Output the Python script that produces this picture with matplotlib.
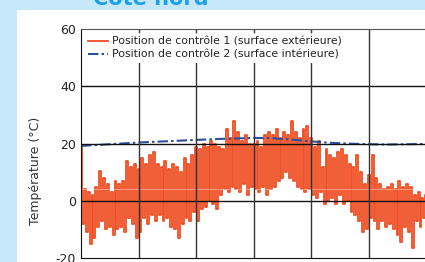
import numpy as np
import matplotlib
matplotlib.use("Agg")
import matplotlib.pyplot as plt
from matplotlib.patches import Rectangle

# readings every 2 days (outer surface), position de contrôle 1
temp_ext = [
    19, -8, 4, -11, 3, -15, 2, -13, 5, -9,
    10.5, -7, 8, -10, 6, -9, 3, -12, 7, -10,
    6, -9, 7, -11, 14, -6, 12, -8, 13, -13,
    11, -11, 15, -6, 13, -8, 16, -5, 17, -7,
    13, -5, 12, -7, 14, -6, 11, -9, 13, -10,
    12, -13, 10, -8, 15, -6, 13, -7, 16, -4,
    19, -7, 18, -3, 20, -2, 19, 0, 21, -1,
    20, -3, 19, 2, 18, 4, 25, 3, 22, 5,
    28, 4, 24, 3, 21, 6, 23, 2, 20, 5,
    20, 4, 21, 3, 19, 5, 23, 2, 24, 4,
    23, 5, 25, 7, 22, 8, 24, 10, 23, 8,
    28, 7, 24, 5, 22, 4, 25, 3, 26, 4,
    22, 2, 19, 1, 21, 3, 12, -1, 18, 0,
    16, 1, 15, -1, 17, 2, 18, -1, 16, 0,
    13, -4, 12, -5, 16, -7, 10, -11, 6, -10,
    9, -6, 16, -7, 8, -10, 6, -7, 4, -9,
    5, -8, 6, -10, 4, -12, 7, -14.5, 5, -9,
    6, -11, 5, -16.5, 2, -7, 3, -9, 1, -6, 2,
]
# readings every 20 days (inner surface), position de contrôle 2
temp_int = [19.2, 19.6, 20.0, 20.4, 20.7, 21.0, 21.3, 21.6, 21.8, 22.0,
            21.9, 21.4, 20.8, 20.3, 20.0, 19.8, 19.7, 19.8, 19.9]
label_ext = "Position de contrôle 1 (surface extérieure)"
label_int = "Position de contrôle 2 (surface intérieure)"
yticks = [-20, 0, 20, 40, 60]
xgrid = [60, 120, 180, 240, 300, 360]

days_ext = np.arange(len(temp_ext)) * 2
days_int = np.arange(len(temp_int)) * 20

W, H = 425, 262
fig = plt.figure(figsize=(W / 100, H / 100), dpi=100)
fig.patch.set_facecolor("#c6e8f8")
panel = Rectangle((17 / W, 0), 1, 1 - 10 / H, transform=fig.transFigure,
                  facecolor="white", edgecolor="none", zorder=-1)
fig.add_artist(panel)

ax = fig.add_axes([81 / W, 1 - 258 / H, (W - 81) / W + 0.003, (258 - 29.3) / H])
ax.set_zorder(1)
ax.set_facecolor("white")

ax.plot(days_ext, temp_ext, color="#f04e23", lw=1.3, zorder=2, label=label_ext,
        drawstyle="steps-mid")
ax.plot(days_int, temp_int, color="#2c4f9e", lw=1.5, zorder=2.1,
        dashes=(5, 1.5, 1.2, 1.5), label=label_int)
# faint light streak visible across the red band in the original scan
ax.axhline(4.3, color="white", lw=0.8, alpha=0.35, zorder=2.2)

for v in [0, 20, 40]:
    ax.axhline(v, color="#111111", lw=1, zorder=2.3)
for v in xgrid:
    ax.axvline(v, color="#333333", lw=1, zorder=2.3)

ax.set_xlim(0, 360)
ax.set_ylim(-20, 60)
ax.set_yticks(yticks)
ax.set_yticklabels([str(t) for t in yticks])
ax.set_xticks(xgrid)
ax.tick_params(axis="x", top=True, bottom=False, direction="in", length=3,
               labelbottom=False, color="#444444")
ax.tick_params(axis="y", length=0, pad=3.5, labelsize=9, labelcolor="#222222")
ax.xaxis.set_zorder(4)
for s in ["left", "bottom"]:
    ax.spines[s].set_color("#111111")
ax.spines["top"].set_color("#555555")
ax.spines["right"].set_visible(False)

leg = ax.legend(loc="upper left", bbox_to_anchor=(0.0, 1.0), borderaxespad=0.3,
                fontsize=7.8, frameon=True, facecolor="white", edgecolor="none",
                framealpha=1, fancybox=False, handlelength=1.8, handletextpad=0.45,
                labelspacing=0.3, borderpad=0.35)
leg.set_zorder(3)
for t in leg.get_texts():
    t.set_color("#222222")

fig.text(35 / W, 1 - 171 / H, "Température (°C)", rotation=90, ha="center",
         va="center", fontsize=9, color="#333333")
fig.text(93 / W, 1 - 5 / H, "Côté nord", ha="left", va="baseline", fontsize=15,
         fontweight="bold", color="#1ba1e6")

fig.savefig("out.png", dpi=100)
